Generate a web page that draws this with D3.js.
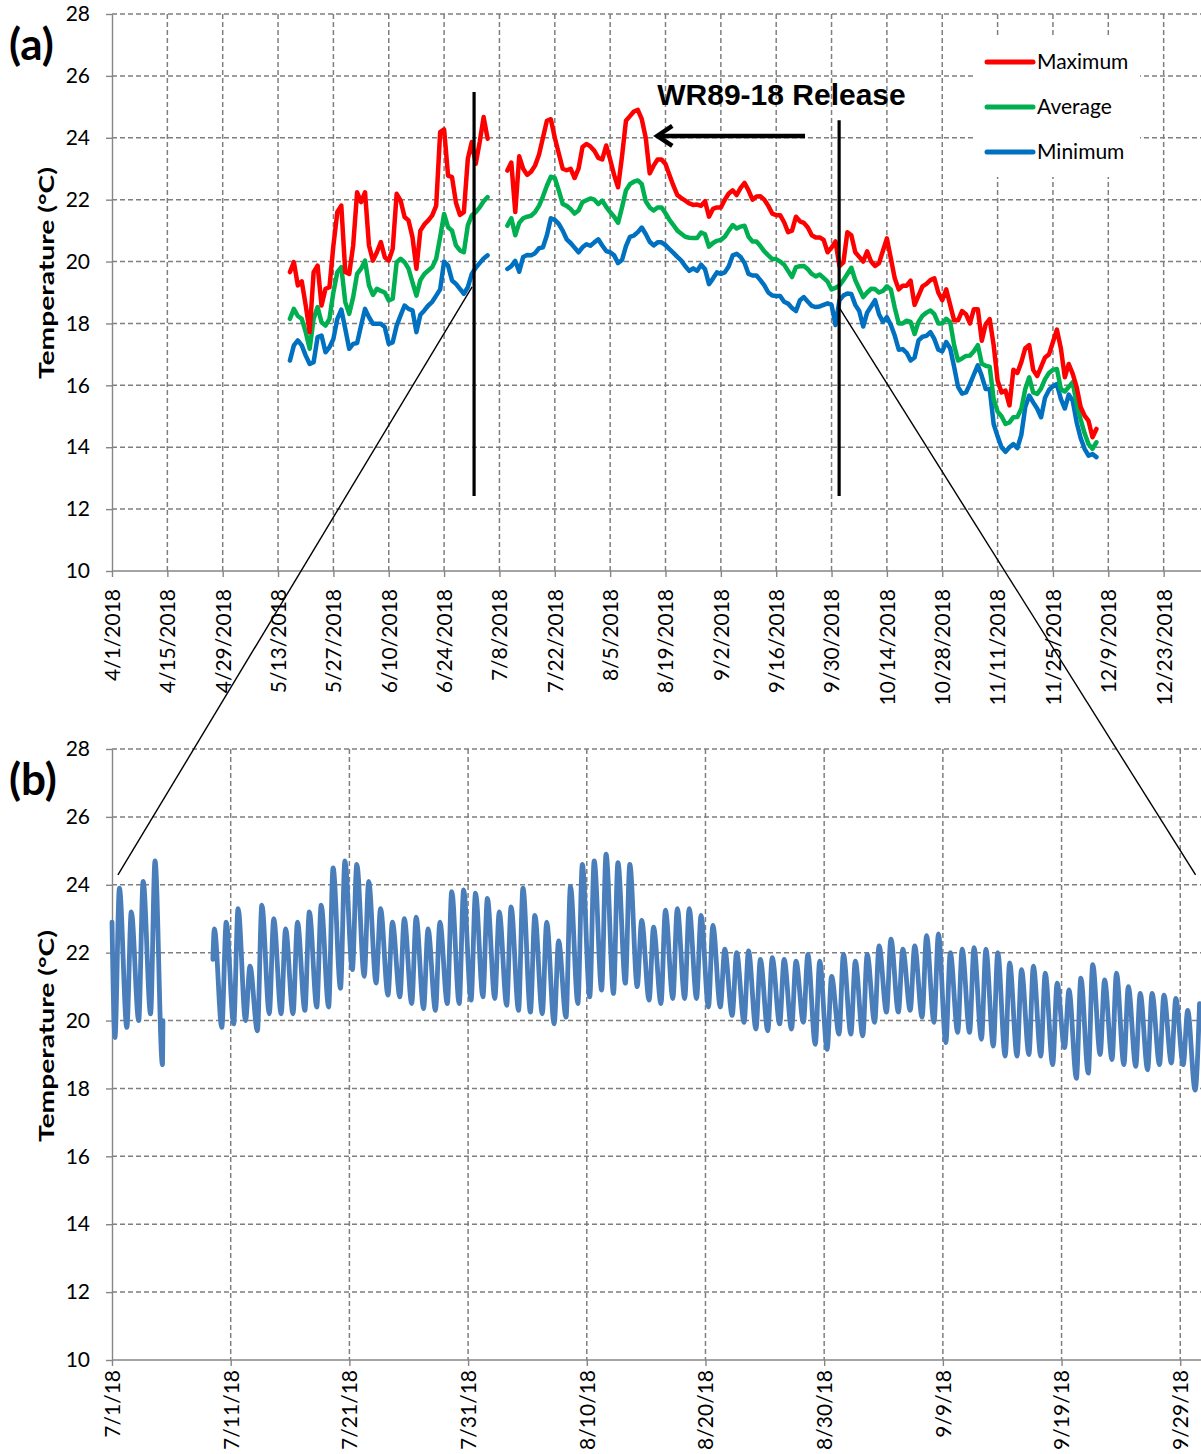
<!DOCTYPE html>
<html>
<head>
<meta charset="utf-8">
<script src="https://cdn.jsdelivr.net/npm/d3@7"></script>
<style>
  body { margin: 0; background: #fff; }
  svg { display: block; font-family: Lato, 'Open Sans', sans-serif; }
  .grid line { stroke: #7f7f7f; stroke-width: 1.5; stroke-dasharray: 5,3; }
  .axis path, .axis line { stroke: #868686; stroke-width: 1.4; }
  .axis text { font-size: 21px; fill: #000; font-family: Lato, sans-serif; }
</style>
</head>
<body>
<div id="chart"></div>
<script>
// ---- (a) daily statistics, one value per day from topStart, null = no data
const topStart = '2018-05-16';
const topMax = [
  19.66, 19.98, 19.23, 19.36, 18.58,
  17.72, 19.66, 19.87, 18.58, 19.12, 19.17, 20.52, 21.6, 21.81, 19.66,
  19.6, 20.52, 22.24, 21.92, 22.24, 20.52, 20.03, 20.3, 20.63, 20.14,
  20.03, 20.41, 22.19, 21.97, 21.44, 21.33, 20.79, 19.77, 21.0, 21.2,
  21.33, 21.49, 21.81, 24.18, 24.27, 22.78, 22.73, 21.9, 21.51, 21.6,
  23.32, 23.86, 23.16, 23.86, 24.67, 23.97,
  null, null, null, null,
  22.94, 23.2, 21.6, 23.4, 23.0, 22.8, 22.9, 23.1, 23.45, 24.0,
  24.55, 24.6, 24.0, 23.5, 23.0, 22.95, 23.0, 22.7, 23.0, 23.7,
  23.8, 23.72, 23.58, 23.35, 23.3, 23.75, 23.3, 22.8, 22.4, 23.4,
  24.55, 24.7, 24.85, 24.9, 24.6, 24.0, 22.85, 23.1, 23.3, 23.3,
  23.15, 22.8, 22.45, 22.15, 22.05, 21.97, 21.88, 21.83, 21.84, 21.8,
  21.95, 21.45, 21.7, 21.75, 21.75, 22.0, 22.2, 22.3, 22.15, 22.38,
  22.54, 22.3, 22.0, 22.1, 22.11, 22.0, 21.8, 21.55, 21.5, 21.5,
  21.27, 20.95, 21.0, 21.45, 21.3, 21.25, 21.1, 20.85, 20.78, 20.78,
  20.7, 20.3, 20.45, 20.65, 19.85, 19.97, 20.95, 20.85, 20.3, 20.15,
  20.0, 20.33, 20.0, 19.86, 19.95, 20.35, 20.75, 20.1,
  19.45, 19.1,
  19.22, 19.22, 19.38, 18.6, 18.9, 19.2, 19.28, 19.4, 19.46, 19.0,
  18.75, 19.1, 18.6, 18.1, 18.1, 18.4, 18.3, 18.0, 18.46, 18.46,
  17.44, 17.98, 18.14, 17.3, 16.15, 15.77, 15.83, 15.35, 16.5, 16.4,
  16.75, 17.2, 17.3, 16.5, 16.3, 16.6, 16.9, 17.0, 17.4, 17.8,
  17.2, 16.26, 16.69, 16.37, 15.94, 15.3, 15.02, 14.85, 14.32, 14.59
];
const topAvg = [
  18.15, 18.47, 18.24, 18.15, 17.72,
  17.18, 18.15, 18.53, 18.04, 17.93, 18.15, 19.01, 19.66, 19.82, 18.69,
  18.31, 18.85, 19.6, 19.77, 20.03, 19.23, 18.92, 19.12, 19.05, 19.0,
  18.74, 18.8, 19.98, 20.09, 19.98, 19.77, 19.33, 18.9, 19.4, 19.6,
  19.71, 19.82, 20.09, 20.79, 21.54, 21.11, 21.0, 20.52, 20.36, 20.3,
  21.17, 21.49, 21.6, 21.75, 21.95, 22.08,
  null, null, null, null,
  21.16, 21.4, 20.85, 21.25, 21.4, 21.45, 21.48, 21.6, 21.8, 22.1,
  22.45, 22.74, 22.7, 22.3, 21.86, 21.8, 21.7, 21.55, 21.65, 21.92,
  21.98, 22.04, 22.0, 21.86, 21.97, 21.77, 21.6, 21.45, 21.25, 21.75,
  22.3, 22.5, 22.58, 22.62, 22.5, 21.95, 21.75, 21.65, 21.75, 21.75,
  21.56, 21.35, 21.18, 21.0, 20.9, 20.8, 20.77, 20.76, 20.76, 20.94,
  20.88, 20.48, 20.6, 20.67, 20.7, 20.8, 21.0, 21.18, 21.07, 21.13,
  21.16, 20.8, 20.65, 20.65, 20.5, 20.33, 20.2, 20.08, 20.08, 20.0,
  19.9, 19.7, 19.5, 19.82, 19.85, 19.86, 19.75, 19.6, 19.52, 19.58,
  19.47, 19.35, 19.1, 19.15, 19.23, 19.4, 19.6, 19.8, 19.4, 19.12,
  18.85, 19.0, 19.12, 19.11, 19.0, 19.05, 19.2, 19.1,
  18.5, 18.0,
  18.0, 18.09, 18.05, 17.66, 18.05, 18.25, 18.35, 18.42, 18.3, 18.0,
  18.0, 18.15, 18.05, 17.3, 16.8, 16.87, 16.95, 16.96, 17.1, 17.3,
  16.7, 16.63, 16.6, 15.55, 15.15, 15.0, 14.75, 14.8, 14.97, 14.98,
  15.24, 15.88, 16.26, 15.77, 15.72, 15.9, 16.2, 16.4, 16.5, 16.53,
  15.88, 15.8, 15.95, 16.1, 15.4, 14.9, 14.45, 14.1, 13.95, 14.16
];
const topMin = [
  16.8, 17.29, 17.45, 17.29, 16.96,
  16.69, 16.75, 17.56, 17.61, 17.07, 17.23, 17.5, 18.15, 18.45, 17.83,
  17.18, 17.34, 17.37, 17.93, 18.47, 18.2, 17.99, 17.99, 17.99, 17.88,
  17.34, 17.39, 17.93, 18.26, 18.58, 18.47, 18.42, 17.72, 18.28, 18.42,
  18.58, 18.7, 18.9, 19.1, 20.0, 19.87, 19.39, 19.28, 19.12, 18.96,
  19.17, 19.6, 19.8, 19.95, 20.1, 20.2,
  null, null, null, null,
  19.76, 19.85, 20.02, 19.67, 20.15, 20.21, 20.2, 20.27, 20.43, 20.46,
  20.85, 21.4, 21.35, 21.22, 21.0, 20.72, 20.6, 20.45, 20.3, 20.46,
  20.56, 20.51, 20.62, 20.72, 20.52, 20.34, 20.3, 20.2, 19.95, 20.05,
  20.5, 20.8, 20.84, 20.95, 21.1, 20.89, 20.64, 20.52, 20.62, 20.62,
  20.53, 20.4, 20.28, 20.15, 20.03, 19.85, 19.7, 19.78, 19.7, 19.9,
  19.75, 19.27, 19.45, 19.65, 19.6, 19.65, 19.85, 20.2, 20.25, 20.15,
  19.95, 19.6, 19.55, 19.55, 19.4, 19.23, 19.0, 18.9, 18.89, 18.89,
  18.7, 18.64, 18.5, 18.4, 18.75, 18.85, 18.7, 18.57, 18.53, 18.55,
  18.6, 18.65, 18.6, 17.95, 18.75, 18.9, 18.97, 18.95, 18.6, 18.4,
  17.9, 18.35, 18.55, 18.75, 18.3, 18.05, 18.2, 17.95,
  17.6, 17.15,
  17.17, 17.05, 16.8, 16.9, 17.45, 17.57, 17.6, 17.72, 17.5, 17.15,
  17.1, 17.4, 17.2, 16.6, 15.95, 15.73, 15.77, 16.04, 16.35, 16.65,
  16.3, 15.88, 15.88, 14.75, 14.35, 14.0, 13.85, 14.0, 14.1, 13.97,
  14.4, 15.3, 15.67, 15.45, 15.25, 14.97, 15.6, 15.85, 15.97, 16.04,
  15.56, 15.25, 15.7, 15.5, 14.8, 14.3, 13.95, 13.73, 13.78, 13.68
];
const topTicks = ['4/1/2018', '4/15/2018', '4/29/2018', '5/13/2018', '5/27/2018', '6/10/2018',
  '6/24/2018', '7/8/2018', '7/22/2018', '8/5/2018', '8/19/2018', '9/2/2018', '9/16/2018',
  '9/30/2018', '10/14/2018', '10/28/2018', '11/11/2018', '11/25/2018', '12/9/2018', '12/23/2018'];

// ---- (b) continuous record: daily low (early morning) and high (afternoon) from botStart
const botStart = '2018-07-01';
const botMin = [
  19.5, 19.8, 20.0, 20.2, 18.7, null, null, null, null, 19.8,
  19.9, 20.0, 19.7, 20.2, 20.2, 20.2, 20.3, 20.4, 20.4, 20.95,
  21.5, 21.3, 21.1, 20.75, 20.7, 20.5, 20.35, 20.3, 20.5, 20.5,
  20.6, 20.7, 20.65, 20.45, 20.3, 20.25, 20.2, 19.9, 20.1, 20.5,
  20.7, 20.9, 20.8, 21.1, 21.0, 20.6, 20.5, 20.65, 20.65, 20.65,
  20.4, 20.4, 20.15, 19.95, 19.75, 19.7, 19.9, 19.75, 19.95, 19.3,
  19.15, 19.6, 19.6, 19.55, 19.95, 20.25, 20.25, 20.3, 20.1, 19.95,
  19.35, 19.65, 19.65, 19.45, 19.25, 18.95, 18.95, 19.0, 18.95, 18.7,
  19.2, 18.3, 18.45, 19.0, 18.85, 18.7, 18.65, 18.55, 18.7, 18.75,
  18.7, 17.95
];
const botMax = [
  23.9, 23.2, 24.1, 24.7, null, null, null, null, 22.7, 22.9,
  23.3, 21.6, 23.4, 23.0, 22.7, 22.9, 23.2, 23.4, 24.5, 24.7,
  24.6, 24.1, 23.3, 22.9, 23.0, 23.05, 22.7, 22.9, 23.8, 23.85,
  23.75, 23.6, 23.2, 23.35, 23.9, 23.1, 22.9, 22.35, 23.95, 24.6,
  24.7, 24.9, 24.65, 24.6, 22.95, 22.75, 23.25, 23.3, 23.3, 23.1,
  22.8, 22.1, 22.0, 22.05, 21.8, 21.85, 21.8, 21.75, 21.95, 21.75,
  21.3, 21.95, 21.75, 21.95, 22.2, 22.4, 22.1, 22.2, 22.5, 22.55,
  22.0, 22.1, 22.15, 22.1, 22.0, 21.7, 21.5, 21.6, 21.4, 21.1,
  20.9, 21.25, 21.65, 21.2, 21.4, 21.0, 20.8, 20.8, 20.75, 20.65,
  20.3, 20.5
];
// readings at the ends of the two logger segments
const botEdgeTimes = ['2018-07-01T00:00', '2018-07-05T07:00', '2018-07-09T12:00'];
const botEdgeTemps = [22.9, 20.0, 21.8];
const botTicks = ['7/1/18', '7/11/18', '7/21/18', '7/31/18', '8/10/18', '8/20/18',
  '8/30/18', '9/9/18', '9/19/18', '9/29/18'];

const yTicks = [10, 12, 14, 16, 18, 20, 22, 24, 26, 28];

// ---- annotations
const releaseDates = ['2018-07-01T14:00', '2018-10-01T22:00'];
const releaseTops = [25.48, 24.57];
const releaseBottom = 12.42;
const zoomTopDates = ['2018-07-01T02:00', '2018-10-01T17:00'];
const zoomTopTemps = [19.18, 18.56];
const zoomBotDates = ['2018-07-01T12:00', '2018-09-30T07:00'];
const zoomBotTemp = 24.29;
const arrowFrom = '2018-09-23T07:00', arrowTo = '2018-08-16T22:00', arrowTemp = 24.06;

const seriesColors = { max: '#ff0000', avg: '#00b050', min: '#0070c0' };

const W = 1201, H = 1454;
const parseIso = d3.isoParse;
const dayStart = d3.timeParse('%Y-%m-%d');

const svg = d3.select('#chart').append('svg')
  .attr('width', W).attr('height', H)
  .style('background', '#fff');

// scales
const xTop = d3.scaleTime().domain([new Date(2018, 3, 1), new Date(2019, 0, 6)]).range([112, 1219]);
const yTop = d3.scaleLinear().domain([10, 28]).range([571, 14]);
const xBot = d3.scaleTime().domain([new Date(2018, 6, 1), new Date(2018, 9, 1)]).range([112, 1204]);
const yBot = d3.scaleLinear().domain([10, 28]).range([1360, 749]);

const topTickDates = topTicks.map(d3.timeParse('%m/%d/%Y'));
const botTickDates = botTicks.map(d3.timeParse('%m/%d/%y'));

function drawFrame(x, y, tickDates, tickLabels, labelGap) {
  const [y0, y1] = y.range();
  const g = svg.append('g');
  // gridlines
  const grid = g.append('g').attr('class', 'grid');
  grid.selectAll('.v').data(tickDates.slice(1)).enter().append('line')
    .attr('x1', d => x(d)).attr('x2', d => x(d))
    .attr('y1', y1).attr('y2', y0);
  grid.selectAll('.h').data(yTicks.slice(1)).enter().append('line')
    .attr('x1', x.range()[0]).attr('x2', W)
    .attr('y1', d => y(d)).attr('y2', d => y(d));

  // x axis
  const xAxis = d3.axisBottom(x).tickValues(tickDates)
    .tickFormat((d, i) => tickLabels[i]).tickSize(6).tickSizeOuter(0);
  const gx = g.append('g').attr('class', 'axis')
    .attr('transform', `translate(0,${y0})`).call(xAxis);
  gx.select('.domain').attr('d', `M${x.range()[0]},0H${W}`);
  gx.selectAll('.tick text')
    .attr('transform', 'rotate(-90)')
    .attr('text-anchor', 'end')
    .attr('x', -labelGap).attr('y', 0).attr('dy', '0.35em');

  // y axis
  const yAxis = d3.axisLeft(y).tickValues(yTicks).tickSize(6).tickSizeOuter(0).tickPadding(16);
  g.append('g').attr('class', 'axis')
    .attr('transform', `translate(${x.range()[0]},0)`).call(yAxis);
  return g;
}

// ================= (a)
drawFrame(xTop, yTop, topTickDates, topTicks, 18);

const t0 = dayStart(topStart);
const topRows = topMax.map((v, i) => ({
  t: d3.timeDay.offset(t0, i), max: v, avg: topAvg[i], min: topMin[i]
}));

const topSeries = [
  { key: 'min', label: 'Minimum' },
  { key: 'avg', label: 'Average' },
  { key: 'max', label: 'Maximum' }
];
topSeries.forEach(s => {
  const line = d3.line()
    .defined(d => d[s.key] != null)
    .x(d => xTop(d.t)).y(d => yTop(d[s.key]));
  svg.append('path').datum(topRows)
    .attr('fill', 'none')
    .attr('stroke', seriesColors[s.key])
    .attr('stroke-width', 4.5)
    .attr('stroke-linejoin', 'round')
    .attr('stroke-linecap', 'round')
    .attr('d', line);
});

// legend
const legend = svg.append('g');
legend.append('rect').attr('x', 975).attr('y', 37).attr('width', 165).attr('height', 140).attr('fill', '#fff');
['max', 'avg', 'min'].forEach((k, i) => {
  const ly = 62 + i * 45;
  legend.append('line').attr('x1', 987).attr('x2', 1033).attr('y1', ly).attr('y2', ly)
    .attr('stroke', seriesColors[k]).attr('stroke-width', 5).attr('stroke-linecap', 'round');
  legend.append('text').attr('x', 1037).attr('y', ly).attr('dy', '0.35em')
    .style('font-size', '21px').text(topSeries.find(s => s.key === k).label);
});

// release annotation
const ay = yTop(arrowTemp);
const ax1 = xTop(parseIso(arrowTo)), ax0 = xTop(parseIso(arrowFrom));
svg.append('line').attr('x1', ax0).attr('x2', ax1 + 2).attr('y1', ay).attr('y2', ay)
  .attr('stroke', '#000').attr('stroke-width', 4.5);
svg.append('path')
  .attr('d', `M${ax1 + 15},${ay - 10}L${ax1},${ay}L${ax1 + 15},${ay + 10}`)
  .attr('fill', 'none').attr('stroke', '#000').attr('stroke-width', 4.5)
  .attr('stroke-linejoin', 'miter');
svg.append('text').attr('x', ax1).attr('y', yTop(25.06))
  .style('font-family', "'Liberation Sans', Arial, sans-serif")
  .style('font-weight', 'bold').style('font-size', '30px')
  .text('WR89-18 Release');

// ================= (b)
drawFrame(xBot, yBot, botTickDates, botTicks, 10);

const b0 = dayStart(botStart);
const botPts = [];
botMin.forEach((v, i) => {
  const day = d3.timeDay.offset(b0, i);
  botPts.push({ t: d3.timeHour.offset(day, 6), v: v });
  botPts.push({ t: d3.timeHour.offset(day, 15), v: botMax[i] });
});
botEdgeTimes.forEach((s, i) => botPts.push({ t: parseIso(s), v: botEdgeTemps[i] }));
botPts.sort((a, b) => a.t - b.t);

svg.append('path').datum(botPts)
  .attr('fill', 'none')
  .attr('stroke', '#4a7ebb')
  .attr('stroke-width', 4.8)
  .attr('stroke-linejoin', 'round')
  .attr('stroke-linecap', 'round')
  .attr('d', d3.line().defined(d => d.v != null)
    .curve(d3.curveMonotoneX)
    .x(d => xBot(d.t)).y(d => yBot(d.v)));

// ================= release bars and zoom connectors (span both panels)
releaseDates.forEach((s, i) => {
  const x = xTop(parseIso(s));
  svg.append('line').attr('x1', x).attr('x2', x)
    .attr('y1', yTop(releaseTops[i])).attr('y2', yTop(releaseBottom))
    .attr('stroke', '#000').attr('stroke-width', 3.2);
});
zoomTopDates.forEach((s, i) => {
  svg.append('line')
    .attr('x1', xTop(parseIso(s))).attr('y1', yTop(zoomTopTemps[i]))
    .attr('x2', xBot(parseIso(zoomBotDates[i]))).attr('y2', yBot(zoomBotTemp))
    .attr('stroke', '#000').attr('stroke-width', 1.4);
});

// titles
function yTitle(cy) {
  svg.append('text')
    .attr('transform', `translate(47,${cy}) rotate(-90)`)
    .attr('text-anchor', 'middle').attr('dy', '0.35em')
    .attr('textLength', 212).attr('lengthAdjust', 'spacingAndGlyphs')
    .style('font-weight', 'bold').style('font-size', '20px')
    .text('Temperature (°C)');
}
yTitle(273);
yTitle(1036);

svg.append('text').attr('x', 9).attr('y', 60)
  .style('font-weight', 'bold').style('font-size', '44px').text('(a)');
svg.append('text').attr('x', 9).attr('y', 795)
  .style('font-weight', 'bold').style('font-size', '44px').text('(b)');
</script>
</body>
</html>
